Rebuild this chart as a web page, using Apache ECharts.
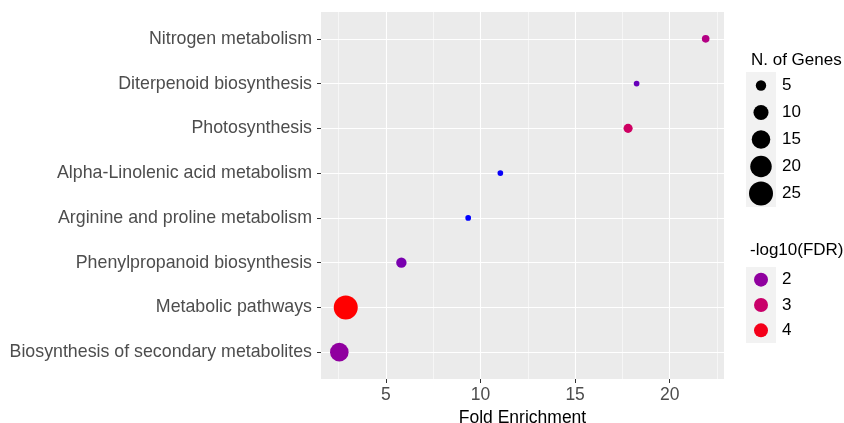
<!DOCTYPE html>
<html lang="en">
<head>
<meta charset="UTF-8">
<title>Fold Enrichment</title>
<style>
    html, body { margin: 0; padding: 0; background: #fff; }
    #chart { width: 844px; height: 423px; }
</style>
</head>
<body>
<div id="chart"></div>
<script src="https://cdn.jsdelivr.net/npm/echarts@6/dist/echarts.min.js"></script>
<script>
// pathways, top to bottom
var pathways = [
    'Nitrogen metabolism',
    'Diterpenoid biosynthesis',
    'Photosynthesis',
    'Alpha-Linolenic acid metabolism',
    'Arginine and proline metabolism',
    'Phenylpropanoid biosynthesis',
    'Metabolic pathways',
    'Biosynthesis of secondary metabolites'
];
var foldEnrichment = [21.9, 18.25, 17.8, 11.05, 9.35, 5.82, 2.88, 2.54];
var geneCount = [3, 2, 4, 2, 2, 5, 25, 15];
var logFDR = [2.6, 1.7, 3.1, 1.15, 1.1, 1.8, 4.3, 2.0];

var xTicks = [5, 10, 15, 20];
var xMinor = [2.5, 7.5, 12.5, 17.5, 22.5];
var sizeBreaks = [5, 10, 15, 20, 25];
var fdrBreaks = [2, 3, 4];

var FONT = '"Liberation Sans", Arial, sans-serif';
var n = pathways.length;

// ggplot-like expansion of the x range (5%)
var lo = Math.min.apply(null, foldEnrichment);
var hi = Math.max.apply(null, foldEnrichment);
var pad = (hi - lo) * 0.05;

function dotSize(g) {
    return 1 + 23 * Math.sqrt((g - 1) / 24);
}

var yVals = [];
for (var i = 1; i <= n; i++) yVals.push(i);

var mainData = pathways.map(function (p, i) {
    return [foldEnrichment[i], n - i, logFDR[i], geneCount[i]];
});

var vLines = xTicks.map(function (v) { return { xAxis: v, lineStyle: { width: 1.1 } }; })
    .concat(xMinor.map(function (v) { return { xAxis: v, lineStyle: { width: 0.55 } }; }));
var hLines = yVals.map(function (v) { return { yAxis: v, lineStyle: { width: 1.1 } }; });

var chart = echarts.init(document.getElementById('chart'), null, { renderer: 'canvas' });

var option = {
    animation: false,
    textStyle: { fontFamily: FONT },
    title: [
        { text: 'N. of Genes', left: 746, top: 47, textStyle: { fontFamily: FONT, fontSize: 17, fontWeight: 'normal', color: '#000' } },
        { text: '-log10(FDR)', left: 745, top: 237, textStyle: { fontFamily: FONT, fontSize: 17, fontWeight: 'normal', color: '#000' } }
    ],
    grid: [
        { left: 321, right: 120, top: 12, bottom: 44, show: true, backgroundColor: '#EBEBEB', borderWidth: 0, outerBoundsMode: 'none', containLabel: false },
        { left: 746, top: 72, width: 30, height: 135, show: true, backgroundColor: '#F2F2F2', borderWidth: 0, outerBoundsMode: 'none' },
        { left: 746, top: 267, width: 30, height: 76, show: true, backgroundColor: '#F2F2F2', borderWidth: 0, outerBoundsMode: 'none' }
    ],
    xAxis: [
        {
            gridIndex: 0, type: 'value', min: lo - pad, max: hi + pad,
            name: 'Fold Enrichment', nameLocation: 'middle', nameGap: 21,
            nameTextStyle: { fontFamily: FONT, fontSize: 17.5, color: '#000' },
            axisLine: { show: false },
            axisTick: { show: true, length: 4, customValues: xTicks, lineStyle: { color: '#333', width: 1 } },
            axisLabel: { customValues: xTicks, margin: 7, fontSize: 17.5, color: '#4D4D4D', fontFamily: FONT },
            splitLine: { show: false }
        },
        { gridIndex: 1, type: 'value', min: 0, max: 1, show: false },
        { gridIndex: 2, type: 'value', min: 0, max: 1, show: false }
    ],
    yAxis: [
        {
            gridIndex: 0, type: 'value', min: 0.4, max: n + 0.6,
            axisLine: { show: false },
            axisTick: { show: true, length: 4, customValues: yVals, lineStyle: { color: '#333', width: 1 } },
            axisLabel: {
                customValues: yVals, margin: 9, fontSize: 17.8, color: '#4D4D4D', fontFamily: FONT,
                formatter: function (v) { return pathways[n - Math.round(v)] || ''; }
            },
            splitLine: { show: false }
        },
        {
            gridIndex: 1, type: 'category', inverse: true, position: 'right',
            data: sizeBreaks.map(String),
            axisLine: { show: false }, axisTick: { show: false },
            axisLabel: { margin: 6, fontSize: 17, color: '#000', fontFamily: FONT },
            splitLine: { show: false }
        },
        {
            gridIndex: 2, type: 'category', inverse: true, position: 'right',
            data: fdrBreaks.map(String),
            axisLine: { show: false }, axisTick: { show: false },
            axisLabel: { margin: 6, fontSize: 17, color: '#000', fontFamily: FONT },
            splitLine: { show: false }
        }
    ],
    visualMap: {
        type: 'continuous', show: false, dimension: 2, seriesIndex: [1, 3],
        min: 1.1, max: 4.3,
        inRange: { color: ['#0000FF', '#8A00A3', '#BA0080', '#E20044', '#FF0000'] }
    },
    series: [
        {
            // panel grid lines
            type: 'line', xAxisIndex: 0, yAxisIndex: 0, data: [], z: 1, silent: true,
            markLine: {
                silent: true, z: 1, symbol: ['none', 'none'], label: { show: false },
                lineStyle: { color: '#FFFFFF', type: 'solid' },
                emphasis: { disabled: true },
                data: vLines.concat(hLines)
            }
        },
        {
            name: 'pathways', type: 'scatter', xAxisIndex: 0, yAxisIndex: 0, z: 6,
            data: mainData,
            symbolSize: function (v) { return dotSize(v[3]); },
            itemStyle: { opacity: 1 }
        },
        {
            name: 'size key', type: 'scatter', xAxisIndex: 1, yAxisIndex: 1,
            data: sizeBreaks.map(function (g, i) { return [0.5, i, g]; }),
            symbolSize: function (v) { return dotSize(v[2]); },
            itemStyle: { color: '#000', opacity: 1 }
        },
        {
            name: 'fdr key', type: 'scatter', xAxisIndex: 2, yAxisIndex: 2,
            data: fdrBreaks.map(function (f, i) { return [0.5, i, f]; }),
            symbolSize: 14,
            itemStyle: { opacity: 1 }
        }
    ]
};

chart.setOption(option);
</script>
</body>
</html>
